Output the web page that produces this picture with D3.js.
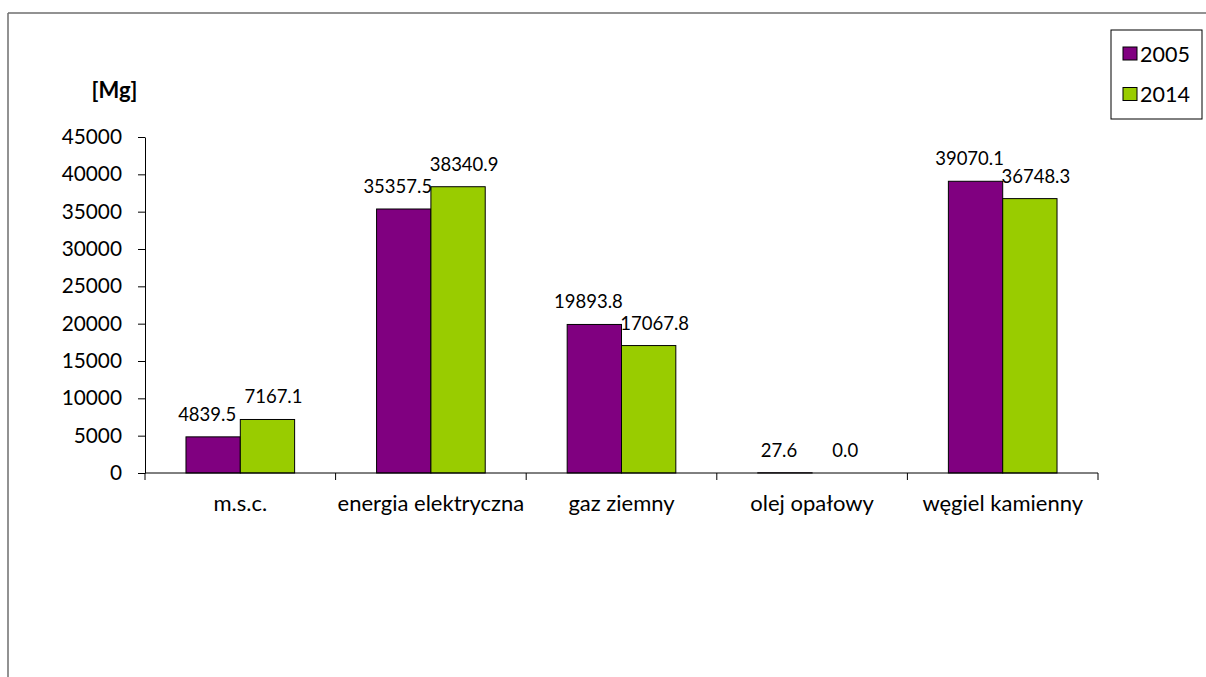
<!DOCTYPE html>
<html>
<head>
<meta charset="utf-8">
<script src="https://cdn.jsdelivr.net/npm/d3@7"></script>
<style>
  html, body { margin: 0; padding: 0; background: #fff; }
  svg { display: block; font-family: Lato, "Open Sans", sans-serif; }
</style>
</head>
<body>
<svg id="chart" width="1206" height="677"></svg>
<script>
const categories = ["m.s.c.", "energia elektryczna", "gaz ziemny", "olej opałowy", "węgiel kamienny"];
const seriesNames = ["2005", "2014"];
const values2005 = [4839.5, 35357.5, 19893.8, 27.6, 39070.1];
const values2014 = [7167.1, 38340.9, 17067.8, 0.0, 36748.3];
const yTicks = [0, 5000, 10000, 15000, 20000, 25000, 30000, 35000, 40000, 45000];
const colors = ["#800080", "#99CC00"];
const unitLabel = "[Mg]";

const svg = d3.select("#chart");

// outer frame (top and left visible)
svg.append("line").attr("x1", 8).attr("y1", 13).attr("x2", 1206).attr("y2", 13)
  .attr("stroke", "#6e6e6e").attr("stroke-width", 1.5);
svg.append("line").attr("x1", 8).attr("y1", 13).attr("x2", 8).attr("y2", 677)
  .attr("stroke", "#6e6e6e").attr("stroke-width", 1.5);

const plot = { left: 145, right: 1098, top: 137, bottom: 473 };

const x0 = d3.scaleBand().domain(categories).range([plot.left, plot.right])
  .paddingInner(0.43).paddingOuter(0.215);
const x1 = d3.scaleBand().domain(seriesNames).range([0, x0.bandwidth()]);
const y = d3.scaleLinear().domain([0, 45000]).range([plot.bottom, plot.top]);

const data = categories.map((c, i) => ({ cat: c, vals: [values2005[i], values2014[i]] }));

// y axis
const yAxis = svg.append("g").attr("transform", `translate(${plot.left},0)`)
  .call(d3.axisLeft(y).tickValues(yTicks).tickSize(7).tickPadding(16).tickSizeOuter(0).tickFormat(d3.format("d")));
yAxis.selectAll("path, line").attr("stroke", "#000");
yAxis.selectAll("text").attr("font-size", 20.8).attr("fill", "#000").attr("font-family", "Lato, sans-serif");

// bars
const groups = svg.append("g").selectAll("g").data(data).join("g")
  .attr("transform", d => `translate(${x0(d.cat)},0)`);
groups.selectAll("rect").data(d => d.vals.map((v, j) => ({ v, s: seriesNames[j], j })))
  .join("rect")
  .attr("x", d => x1(d.s))
  .attr("width", x1.bandwidth())
  .attr("y", d => y(d.v))
  .attr("height", d => y(0) - y(d.v))
  .attr("fill", d => colors[d.j])
  .attr("stroke", "#000").attr("stroke-width", 1);

groups.selectAll("text.val").data(d => d.vals.map((v, j) => ({ v, s: seriesNames[j], j })))
  .join("text").attr("class", "val")
  .attr("x", d => x1(d.s) + x1.bandwidth() / 2 + (d.j === 0 ? -6 : 6))
  .attr("y", d => y(d.v) - 16)
  .attr("text-anchor", "middle")
  .attr("font-size", 18.5).attr("fill", "#000")
  .text(d => d.v.toFixed(1));

// x axis with ticks at category boundaries
const xAxisG = svg.append("g");
xAxisG.append("line").attr("x1", plot.left).attr("x2", plot.right)
  .attr("y1", y(0)).attr("y2", y(0)).attr("stroke", "#000");
const boundaries = d3.range(categories.length + 1).map(i => plot.left + i * x0.step());
xAxisG.selectAll("line.tk").data(boundaries).join("line").attr("class", "tk")
  .attr("x1", d => d).attr("x2", d => d).attr("y1", y(0)).attr("y2", y(0) + 7)
  .attr("stroke", "#000");
xAxisG.selectAll("text").data(categories).join("text")
  .attr("x", d => x0(d) + x0.bandwidth() / 2)
  .attr("y", y(0) + 38)
  .attr("text-anchor", "middle").attr("font-size", 22).attr("fill", "#000")
  .text(d => d);

// unit label
svg.append("text").attr("x", 114.5).attr("y", 98).attr("text-anchor", "middle")
  .attr("font-size", 22).attr("font-weight", "bold").attr("fill", "#000").text(unitLabel);

// legend
const lg = svg.append("g");
lg.append("rect").attr("x", 1111).attr("y", 30).attr("width", 91).attr("height", 89)
  .attr("fill", "#fff").attr("stroke", "#000").attr("stroke-width", 1);
seriesNames.forEach((s, i) => {
  const yy = 47 + i * 40.5;
  lg.append("rect").attr("x", 1123).attr("y", yy).attr("width", 14).attr("height", 13)
    .attr("fill", colors[i]).attr("stroke", "#000").attr("stroke-width", 1);
  lg.append("text").attr("x", 1140).attr("y", yy + 14.5).attr("font-size", 21.5).attr("fill", "#000").text(s);
});
</script>
</body>
</html>
